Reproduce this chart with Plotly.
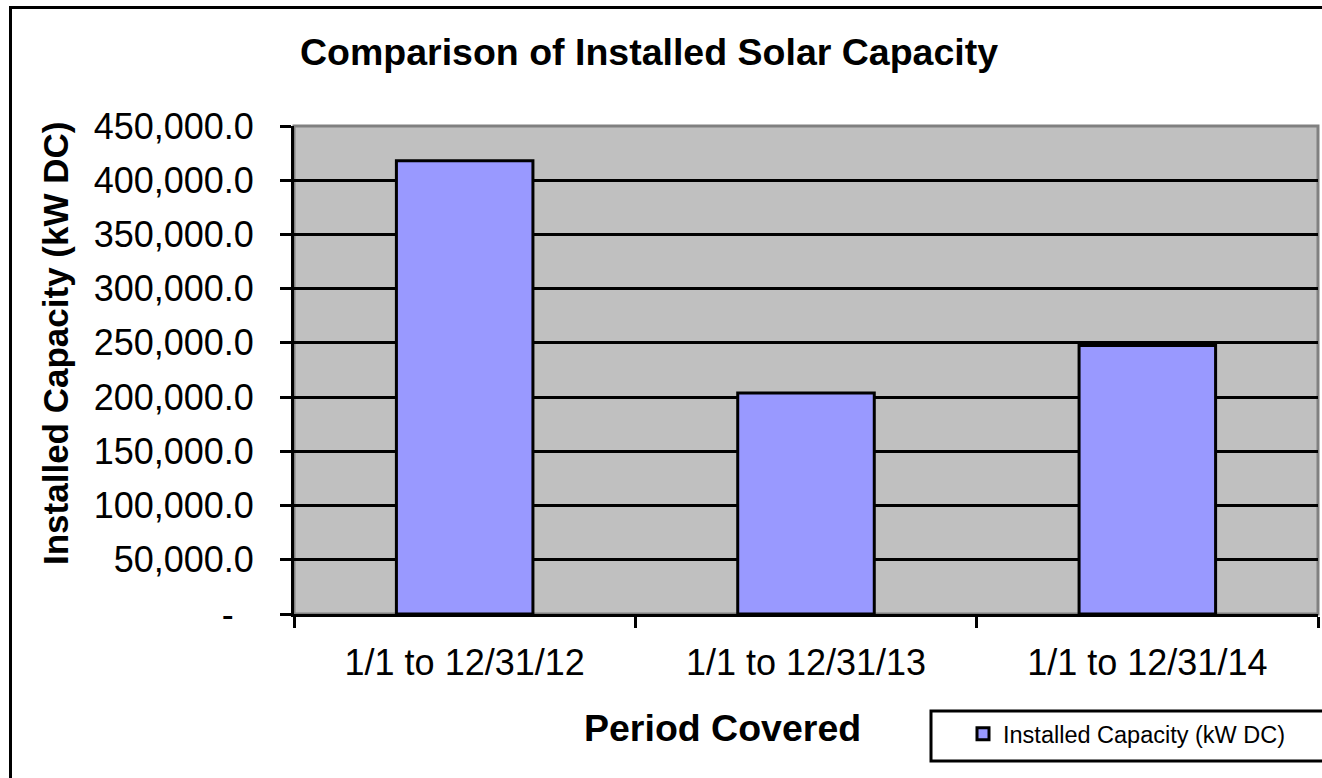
import plotly.graph_objects as go

categories = ["1/1 to 12/31/12", "1/1 to 12/31/13", "1/1 to 12/31/14"]
capacity_kw = [417900, 203700, 247700]
series_name = "Installed Capacity (kW DC)"
y_tick_vals = [0, 50000, 100000, 150000, 200000, 250000, 300000, 350000, 400000, 450000]
y_tick_text = ["-\u00a0\u00a0"] + [f"{v:,.1f}" for v in y_tick_vals[1:]]

W, H = 1322, 778
PLOT_L, PLOT_R, PLOT_T, PLOT_B = 294, 1318, 126, 614
L, T = PLOT_L, PLOT_T
R, B = W - PLOT_R, H - PLOT_B
PW = PLOT_R - PLOT_L
PH = PLOT_B - PLOT_T


def px(x):
    return (x - PLOT_L) / PW


def py(y):
    return (PLOT_B - y) / PH


FONT = "Liberation Sans, Arial, sans-serif"

fig = go.Figure()
fig.add_trace(go.Bar(
    x=categories, y=capacity_kw, name=series_name,
    marker=dict(color="#9999FF", line=dict(color="black", width=3)),
    showlegend=True,
))

fig.update_layout(
    width=W, height=H,
    margin=dict(l=L, r=R, t=T, b=B, pad=0),
    paper_bgcolor="white", plot_bgcolor="#C0C0C0",
    bargap=0.6,
    font=dict(family=FONT, color="black"),
    showlegend=True,
    legend=dict(
        x=px(963), y=py(712), xanchor="left", yanchor="top",
        bgcolor="rgba(0,0,0,0)", borderwidth=0,
        font=dict(size=23.5, family=FONT),
    ),
    xaxis=dict(
        type="category", tickson="boundaries", ticks="outside", ticklen=11,
        tickwidth=3, tickcolor="black", showline=True, linecolor="black",
        linewidth=3, showgrid=False, tickfont=dict(size=36, family=FONT),
        ticklabelstandoff=15,
    ),
    yaxis=dict(
        range=[0, 450000], tickvals=y_tick_vals, ticktext=y_tick_text,
        ticks="outside", ticklen=11, tickwidth=3, tickcolor="black",
        showline=True, linecolor="black", linewidth=3,
        showgrid=True, gridcolor="black", gridwidth=3,
        tickfont=dict(size=36, family=FONT), ticklabelstandoff=19,
        zeroline=False,
    ),
    shapes=[
        dict(type="rect", xref="paper", yref="paper",
             x0=0, x1=1, y0=0, y1=1, line=dict(color="#808080", width=3),
             layer="below"),
        dict(type="rect", xref="paper", yref="paper",
             x0=px(10.5), x1=px(1335), y0=py(795), y1=py(7.5),
             line=dict(color="black", width=3), fillcolor="rgba(0,0,0,0)"),
        dict(type="rect", xref="paper", yref="paper",
             x0=px(931), x1=px(1340), y0=py(761), y1=py(711),
             line=dict(color="black", width=3), fillcolor="rgba(0,0,0,0)"),
    ],
    annotations=[
        dict(text="<b>Comparison of Installed Solar Capacity</b>", xref="paper",
             yref="paper", x=px(649), y=py(52), showarrow=False,
             xanchor="center", yanchor="middle", font=dict(size=37.5, family=FONT)),
        dict(text="<b>Period Covered</b>", xref="paper", yref="paper",
             x=px(722), y=py(728), showarrow=False, xanchor="center",
             yanchor="middle", font=dict(size=37.5, family=FONT)),
        dict(text="<b>Installed Capacity (kW DC)</b>", xref="paper", yref="paper",
             x=px(55), y=py(344), showarrow=False, textangle=-90,
             xanchor="center", yanchor="middle", font=dict(size=35, family=FONT)),
    ],
)

fig.write_html(
    "out.html",
    config={"displayModeBar": False},
    post_script="document.body.style.margin='0';document.body.style.overflow='hidden';",
)
